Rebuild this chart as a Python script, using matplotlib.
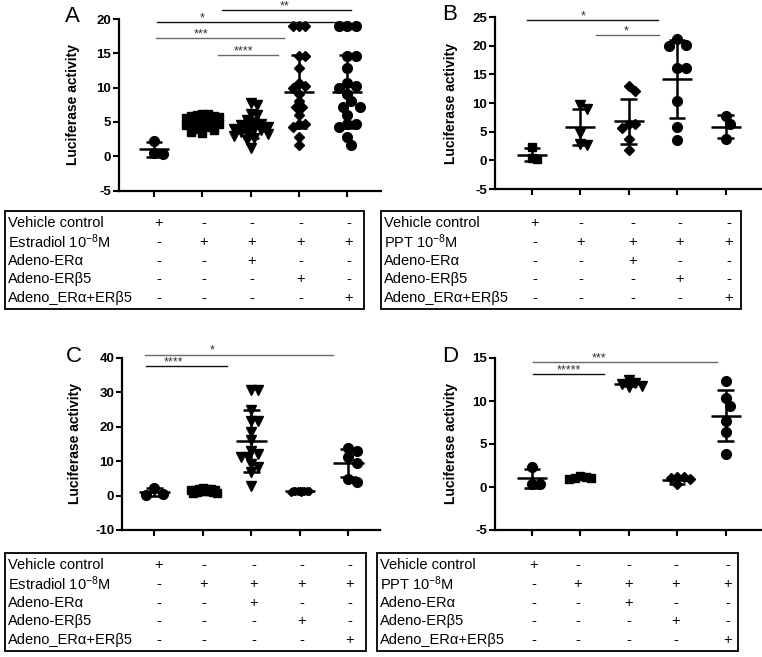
import numpy as np
import matplotlib
matplotlib.use("Agg")
import matplotlib.pyplot as plt
from matplotlib.patches import Rectangle

plt.rcParams['font.family'] = ['Liberation Sans', 'DejaVu Sans']
plt.rcParams['mathtext.fontset'] = 'custom'
plt.rcParams['mathtext.rm'] = 'Liberation Sans'
plt.rcParams['mathtext.it'] = 'Liberation Sans:italic'
plt.rcParams['mathtext.bf'] = 'Liberation Sans:bold'

# ---------------- data ----------------
A_vehicle = [2.2, 0.35, 0.45]
A_e2 = [6.2, 6.1, 6.0, 5.9, 5.8, 5.7, 5.5, 5.3, 5.1, 5.0, 4.9, 4.8, 4.7, 4.6, 4.4, 4.2, 4.0, 3.8, 3.6, 3.4]
A_era = [7.8, 7.5, 6.2, 6.0, 5.3, 4.9, 4.7, 4.5, 4.3, 4.2, 4.0, 3.9, 3.8, 3.6, 3.4, 3.2, 3.0, 2.7, 2.4, 1.2]
A_erb5 = [19.0, 19.0, 19.0, 14.6, 14.6, 12.8, 10.7, 10.3, 10.0, 9.1, 8.0, 7.1, 7.1, 6.0, 4.7, 4.7, 4.3, 2.8, 1.7]
A_both = [19.0, 19.0, 19.0, 14.6, 14.6, 12.8, 10.7, 10.3, 10.0, 9.1, 8.0, 7.1, 7.1, 6.0, 4.7, 4.7, 4.3, 2.8, 1.7]
A_mean = [1.0, 4.9, 4.1, 9.4, 9.4]
A_sd = [1.1, 0.75, 1.45, 5.3, 5.3]

B_vehicle = [2.4, 0.2, 0.4]
B_ppt = [9.6, 9.0, 4.8, 2.7, 2.8]
B_era = [13.0, 12.1, 6.4, 6.3, 5.6, 3.7, 1.8]
B_erb5 = [21.1, 20.1, 20.0, 16.1, 16.1, 10.4, 5.9, 3.5]
B_both = [7.7, 6.3, 3.7]
B_mean = [1.0, 5.8, 6.8, 14.2, 5.9]
B_sd = [1.1, 3.1, 3.9, 6.75, 1.95]

C_vehicle = [2.3, 0.3, 0.5]
C_e2 = [2.1, 2.0, 1.9, 1.8, 1.7, 1.6, 1.5, 1.4, 1.3, 1.2, 1.1, 1.0, 0.9, 0.8]
C_era = [30.8, 30.8, 25.0, 21.6, 21.6, 18.5, 16.3, 13.0, 12.0, 11.2, 11.2, 9.1, 8.3, 6.8, 2.8]
C_erb5 = [1.3, 1.2, 1.2, 1.3, 1.1, 1.2, 1.3, 1.2, 1.1, 1.2]
C_both = [13.9, 13.1, 11.2, 9.5, 4.9, 4.0]
C_mean = [1.0, 1.5, 16.0, 1.2, 9.5]
C_sd = [1.1, 0.4, 9.0, 0.1, 4.0]

D_vehicle = [2.3, 0.35, 0.35]
D_ppt = [1.25, 1.15, 1.0, 0.9, 1.1]
D_era = [12.4, 12.1, 12.0, 11.8, 11.6]
D_erb5 = [1.2, 1.2, 1.05, 0.3, 0.95]
D_both = [12.3, 10.3, 9.4, 7.7, 6.4, 3.8]
D_mean = [1.0, 1.05, 12.0, 0.85, 8.3]
D_sd = [1.1, 0.12, 0.3, 0.45, 3.0]

# significance: (x_start, x_end, y, label, text_x, dark?)
A_sig = [(0.05, 4.0, 19.5, '*', 1.0, True), (1.4, 4.08, 21.3, '**', 2.71, True),
         (0.03, 2.68, 17.2, '***', 0.98, False), (1.33, 2.57, 14.7, '****', 1.85, False)]
B_sig = [(-0.09, 2.6, 24.5, '*', 1.05, True), (1.32, 2.63, 21.8, '*', 1.94, False)]
C_sig = [(-0.19, 3.68, 41.0, '*', 1.18, False), (-0.18, 1.49, 37.6, '****', 0.39, True)]
D_sig = [(0.03, 3.83, 14.5, '***', 1.39, False), (0.03, 1.48, 13.1, '*****', 0.77, True)]

yticks_A = [-5, 0, 5, 10, 15, 20]
yticks_B = [-5, 0, 5, 10, 15, 20, 25]
yticks_C = [-10, 0, 10, 20, 30, 40]
yticks_D = [-5, 0, 5, 10, 15]

rows_E2 = ["Vehicle control", "Estradiol 10$^{-8}$M", "Adeno-ER\u03b1", "Adeno-ER\u03b25", "Adeno_ER\u03b1+ER\u03b25"]
rows_PPT = ["Vehicle control", "PPT 10$^{-8}$M", "Adeno-ER\u03b1", "Adeno-ER\u03b25", "Adeno_ER\u03b1+ER\u03b25"]
signs = [["+", "-", "-", "-", "-"],
         ["-", "+", "+", "+", "+"],
         ["-", "-", "+", "-", "-"],
         ["-", "-", "-", "+", "-"],
         ["-", "-", "-", "-", "+"]]

# ---------------- layout ----------------
W, H = 762, 657
fig = plt.figure(figsize=(W / 100, H / 100), dpi=100)


def fx(p):
    return p / W


def fy(p):
    return 1 - p / H


def swarm(vals, dpx, xppu, yppu, factor=0.75, maxw=18):
    vals = np.asarray(vals, float)
    order = np.argsort(-vals, kind='stable')
    placed = []
    offs = np.zeros(len(vals))
    d = dpx * factor
    step = d / 2
    cands = [0.0]
    j = 1
    while j * step <= maxw:
        cands += [j * step, -j * step]
        j += 1
    for i in order:
        y = vals[i] * yppu
        best, bestd = 0.0, -1
        chosen = None
        for c in cands:
            md = min([np.hypot(c - px, y - py) for px, py in placed] or [1e9])
            if md >= d:
                chosen = c
                break
            if md > bestd + 1e-9:
                best, bestd = c, md
        if chosen is None:
            chosen = best
        placed.append((chosen, y))
        offs[i] = chosen / xppu
    return offs


def panel(box, xlim, ylim, yticks, groups, styles, means, sds, sig, letter, label_x):
    x0, x1, top, bot = box
    ax = fig.add_axes([fx(x0), fy(bot), fx(x1 - x0), (bot - top) / H])
    ax.set_xlim(*xlim)
    ax.set_ylim(*ylim)
    xppu = (x1 - x0) / (xlim[1] - xlim[0])
    yppu = (bot - top) / (ylim[1] - ylim[0])
    for i, (vals, (mk, ms, dpx, fac, mw)) in enumerate(zip(groups, styles)):
        offs = swarm(vals, dpx, xppu, yppu, fac, mw)
        ax.plot(i + offs, vals, linestyle='none', marker=mk, ms=ms, color='black',
                mec='black', zorder=2, clip_on=False)
    for i, (m, s) in enumerate(zip(means, sds)):
        kw = dict(color='black', lw=1.8, zorder=3, solid_capstyle='butt')
        ax.plot([i - 0.31, i + 0.31], [m, m], **kw)
        ax.plot([i, i], [m - s, m + s], **kw)
        ax.plot([i - 0.17, i + 0.17], [m + s, m + s], **kw)
        ax.plot([i - 0.17, i + 0.17], [m - s, m - s], **kw)
    for (xa, xb, y, lab, tx, dark) in sig:
        col = '#111111' if dark else '#6a6a6a'
        ax.plot([xa, xb], [y, y], color=col, lw=1.0, clip_on=False, zorder=4)
        ax.annotate(lab, (tx, y), xytext=(0, -1.5), textcoords='offset points',
                    ha='center', va='bottom', fontsize=9, color='#333333',
                    annotation_clip=False)
    for s in ['top', 'right']:
        ax.spines[s].set_visible(False)
    for s in ['left', 'bottom']:
        ax.spines[s].set_linewidth(1.6)
    ax.set_xticks(range(len(groups)))
    ax.set_xticklabels([])
    ax.set_yticks(yticks)
    ax.set_yticklabels([str(t) for t in yticks], fontweight='bold', fontsize=9.5)
    ax.tick_params(axis='both', length=4, width=1.5, pad=1.5, color='black')
    fig.text(fx(label_x), fy((top + bot) / 2), 'Luciferase activity', rotation=90,
             ha='center', va='center', fontsize=10, fontweight='bold')
    fig.text(fx(label_x - 1), fy(top - 2), letter, ha='center', va='center', fontsize=16)
    return ax


def table(box, label_x, cols, labels, row0, rowstep=18.8):
    bx0, bx1, bt, bb = box
    fig.add_artist(Rectangle((fx(bx0), fy(bb)), fx(bx1 - bx0), (bb - bt) / H,
                             transform=fig.transFigure, fill=False, lw=1.4,
                             edgecolor='#111111'))
    for r, lab in enumerate(labels):
        yy = row0 + r * rowstep
        fig.text(fx(label_x), fy(yy), lab, ha='left', va='center', fontsize=10.5)
        for c, sx in enumerate(cols):
            fig.text(fx(sx), fy(yy), signs[r][c], ha='center', va='center', fontsize=10.5)


# (marker, size, diameter px, overlap factor, max half-width px)
circ = ('o', 7, 10, 0.85, 20)
sq = ('s', 6, 8, 0.7, 17)
sq_c = ('s', 6, 8, 0.5, 15)
tri = ('v', 7.5, 9, 0.75, 17)
dia = ('D', 5.5, 8, 0.8, 20)
dia_s = ('D', 4, 5, 0.45, 11)

panel((119, 380.5, 19, 190.5), (-0.73, 4.69), (-5, 20), yticks_A,
      [A_vehicle, A_e2, A_era, A_erb5, A_both], [circ, sq, tri, dia, circ],
      A_mean, A_sd, A_sig, 'A', 73)
panel((495, 761, 17, 189), (-0.76, 4.73), (-5, 25), yticks_B,
      [B_vehicle, B_ppt, B_era, B_erb5, B_both], [sq, tri, dia, circ, circ],
      B_mean, B_sd, B_sig, 'B', 451)
panel((122, 380, 358, 530), (-0.67, 4.65), (-10, 40), yticks_C,
      [C_vehicle, C_e2, C_era, C_erb5, C_both], [circ, sq_c, tri, dia_s, circ],
      C_mean, C_sd, C_sig, 'C', 75)
panel((495, 761, 358, 530), (-0.76, 4.73), (-5, 15), yticks_D,
      [D_vehicle, D_ppt, D_era, D_erb5, D_both], [circ, sq, tri, dia, circ],
      D_mean, D_sd, D_sig, 'D', 451)

table((5, 364, 211, 309), 8, [159, 204, 252, 301, 349], rows_E2, 223)
table((381, 741, 211, 309), 384, [535, 581, 633, 680, 729], rows_PPT, 223)
table((5, 366, 553, 651), 8, [159, 204, 254, 302, 350], rows_E2, 565)
table((377, 738, 553, 651), 380, [534, 578, 629, 676, 728], rows_PPT, 565)

fig.savefig('out.png', dpi=100, facecolor='white')
